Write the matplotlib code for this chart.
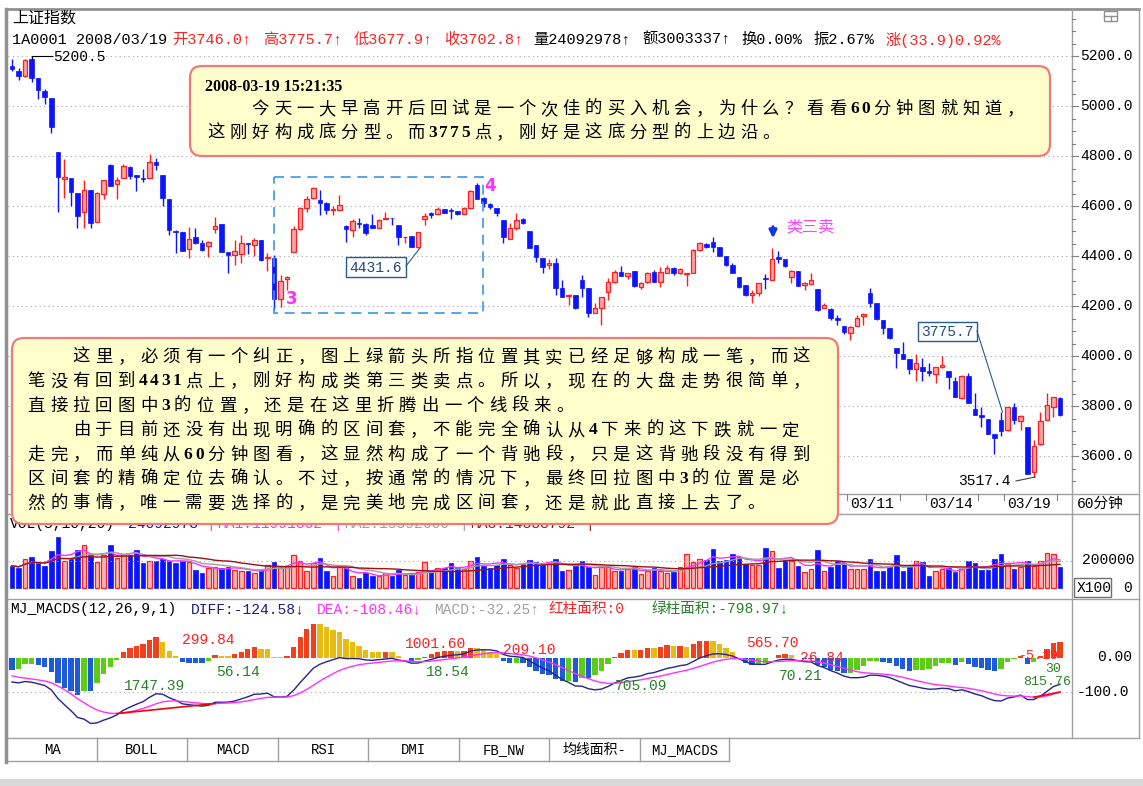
import numpy as np
import pandas as pd
import matplotlib
matplotlib.use('Agg')
import matplotlib.pyplot as plt
from matplotlib.patches import FancyBboxPatch, Rectangle

W, H = 1143, 786
CJK = ['Noto Sans CJK SC', 'DejaVu Sans']
MONO = ['Liberation Mono', 'Noto Sans CJK SC', 'DejaVu Sans']
plt.rcParams['font.family'] = MONO

# 上证指数 60分钟K线, 2008年1月-3月
opens = [
    5160, 5141, 5121, 5187, 5111, 5061, 5031, 4817, 4710, 4711,
    4653, 4575, 4664, 4535, 4648, 4764, 4688, 4711, 4757, 4723,
    4713, 4711, 4777, 4724, 4627, 4500, 4497, 4427, 4475, 4451,
    4440, 4507, 4527, 4417, 4404, 4408, 4453, 4444, 4464, 4391,
    4391, 4227, 4307, 4417, 4507, 4591, 4631, 4624, 4611, 4584,
    4584, 4521, 4504, 4533, 4528, 4524, 4511, 4547, 4553, 4524,
    4475, 4480, 4435, 4547, 4571, 4568, 4587, 4584, 4580, 4567,
    4591, 4684, 4631, 4608, 4591, 4544, 4467, 4511, 4547, 4501,
    4444, 4391, 4364, 4371, 4271, 4241, 4244, 4304, 4271, 4173,
    4191, 4257, 4297, 4337, 4320, 4341, 4275, 4297, 4337, 4297,
    4333, 4351, 4331, 4328, 4333, 4424, 4448, 4457, 4435, 4400,
    4364, 4315, 4284, 4244, 4251, 4311, 4304, 4395, 4387, 4317,
    4341, 4284, 4288, 4267, 4193, 4187, 4151, 4120, 4091, 4120,
    4160, 4251, 4211, 4144, 4111, 4031, 4008, 3987, 3947, 3955,
    3941, 3928, 3955, 3941, 3901, 3831, 3920, 3787, 3764, 3747,
    3688, 3744, 3704, 3797, 3741, 3717, 3537, 3647, 3744, 3795,
    3831]
highs = [
    5190, 5151, 5187, 5200.5, 5111, 5067, 5031, 4817, 4787, 4711,
    4653, 4704, 4664, 4657, 4704, 4768, 4717, 4767, 4760, 4723,
    4750, 4808, 4791, 4724, 4627, 4504, 4497, 4517, 4511, 4464,
    4460, 4557, 4527, 4417, 4464, 4484, 4453, 4471, 4464, 4411,
    4404, 4324, 4320, 4520, 4597, 4640, 4675, 4664, 4617, 4600,
    4644, 4524, 4547, 4551, 4531, 4567, 4547, 4577, 4553, 4524,
    4477, 4480, 4497, 4571, 4577, 4597, 4587, 4591, 4580, 4597,
    4664, 4693, 4635, 4611, 4591, 4544, 4533, 4571, 4551, 4501,
    4444, 4391, 4387, 4391, 4304, 4247, 4244, 4324, 4271, 4213,
    4237, 4311, 4344, 4360, 4331, 4341, 4297, 4337, 4344, 4355,
    4364, 4355, 4351, 4333, 4427, 4457, 4451, 4475, 4435, 4400,
    4371, 4315, 4284, 4264, 4293, 4328, 4431, 4421, 4387, 4344,
    4341, 4297, 4333, 4267, 4211, 4191, 4164, 4120, 4120, 4164,
    4171, 4271, 4211, 4144, 4111, 4031, 4057, 3987, 4008, 3991,
    3973, 3957, 4000, 3941, 3915, 3924, 3931, 3853, 3797, 3747,
    3688, 3775.7, 3797, 3813, 3764, 3717, 3664, 3777, 3853, 3837,
    3835]
lows = [
    5140, 5104, 5117, 5097, 5027, 5008, 4891, 4577, 4631, 4600,
    4511, 4511, 4511, 4535, 4628, 4680, 4628, 4711, 4707, 4661,
    4697, 4711, 4744, 4600, 4484, 4413, 4421, 4391, 4448, 4420,
    4395, 4493, 4417, 4331, 4364, 4371, 4408, 4400, 4381, 4340,
    4184, 4197, 4264, 4417, 4504, 4577, 4627, 4564, 4568, 4564,
    4584, 4457, 4477, 4511, 4484, 4511, 4511, 4547, 4524, 4444,
    4453, 4435, 4431.6, 4524, 4551, 4568, 4571, 4547, 4564, 4567,
    4587, 4627, 4597, 4587, 4560, 4453, 4467, 4504, 4528, 4431,
    4377, 4333, 4347, 4244, 4237, 4204, 4187, 4237, 4155, 4173,
    4124, 4224, 4293, 4320, 4307, 4275, 4267, 4293, 4297, 4275,
    4331, 4324, 4328, 4280, 4333, 4421, 4431, 4417, 4400, 4360,
    4331, 4271, 4240, 4213, 4240, 4267, 4304, 4371, 4357, 4291,
    4280, 4264, 4288, 4181, 4191, 4144, 4124, 4088, 4064, 4120,
    4124, 4197, 4144, 4088, 4067, 3951, 3987, 3928, 3901, 3901,
    3920, 3891, 3951, 3867, 3837, 3827, 3813, 3764, 3717, 3688,
    3608, 3680, 3701, 3728, 3704, 3528, 3517.4, 3644, 3744, 3757,
    3760]
closes = [
    5150, 5121, 5184, 5111, 5064, 5035, 4917, 4715, 4717, 4657,
    4561, 4664, 4533, 4651, 4704, 4680, 4704, 4761, 4720, 4717,
    4708, 4777, 4764, 4631, 4504, 4495, 4421, 4467, 4451, 4424,
    4456, 4520, 4417, 4404, 4420, 4451, 4447, 4464, 4384, 4395,
    4227, 4301, 4317, 4507, 4591, 4627, 4671, 4611, 4584, 4587,
    4604, 4508, 4540, 4528, 4491, 4511, 4544, 4551, 4551, 4475,
    4477, 4435, 4497, 4560, 4563, 4587, 4573, 4580, 4567, 4591,
    4661, 4627, 4611, 4597, 4571, 4475, 4511, 4544, 4531, 4431,
    4395, 4357, 4371, 4271, 4237, 4245, 4191, 4271, 4173, 4191,
    4237, 4297, 4337, 4320, 4331, 4280, 4291, 4333, 4297, 4337,
    4351, 4331, 4347, 4333, 4424, 4453, 4437, 4437, 4400, 4364,
    4333, 4277, 4244, 4253, 4293, 4307, 4387, 4387, 4360, 4341,
    4280, 4291, 4304, 4184, 4203, 4151, 4144, 4097, 4115, 4151,
    4167, 4211, 4147, 4111, 4071, 4013, 3987, 3947, 3971, 3941,
    3931, 3955, 3964, 3915, 3837, 3920, 3813, 3764, 3755, 3688,
    3671, 3701, 3797, 3744, 3760, 3528, 3640, 3741, 3804, 3835,
    3764]
# 成交量, 单位: 千 (X100股)
vols = [
    165, 148, 215, 227, 183, 165, 272, 375, 202, 215,
    281, 314, 240, 190, 240, 314, 222, 252, 240, 281,
    183, 198, 202, 215, 202, 183, 198, 190, 133, 109,
    148, 158, 148, 158, 133, 128, 123, 109, 133, 173,
    190, 148, 165, 240, 198, 128, 183, 222, 123, 91,
    158, 148, 91, 74, 109, 91, 91, 109, 91, 133,
    99, 104, 116, 190, 128, 148, 148, 183, 148, 141,
    202, 232, 165, 148, 173, 215, 173, 148, 178, 207,
    190, 173, 190, 215, 128, 133, 165, 202, 153, 99,
    158, 158, 128, 123, 141, 153, 104, 123, 148, 128,
    109, 116, 153, 247, 190, 215, 207, 289, 198, 207,
    247, 232, 178, 173, 173, 296, 272, 148, 207, 202,
    165, 116, 141, 277, 123, 158, 198, 183, 141, 141,
    141, 215, 123, 128, 158, 240, 123, 153, 202, 190,
    91, 128, 141, 148, 116, 141, 198, 183, 133, 133,
    215, 247, 178, 141, 158, 202, 165, 202, 257, 252,
    158]

date_ticks = [127.5, 135.5, 139.5, 147.5, 151.5, 159.5]
date_labels = {127.5: '03/11', 139.5: '03/14', 151.5: '03/19'}
price_ticks = [3600, 3800, 4000, 4200, 4400, 4600, 4800, 5000, 5200]
tabs = ['MA', 'BOLL', 'MACD', 'RSI', 'DMI', 'FB_NW', '均线面积-', 'MJ_MACDS']
tab_edges = [8, 97, 187, 278, 368, 459, 549, 640, 729]
area_labels = [('1747.39', 124, 686, 'g'), ('299.84', 182, 640, 'r'), ('56.14', 216, 672, 'g'),
               ('1001.60', 405, 644, 'r'), ('18.54', 426, 672, 'g'), ('209.10', 503, 650, 'r'),
               ('705.09', 615, 686, 'g'), ('565.70', 746, 643, 'r'), ('70.21', 779, 676, 'g'),
               ('26.84', 800, 658, 'r'), ('815.76', 1023, 682, 'g'), ('-5.19', 1019, 656, 'r'),
               ('30', 1045, 669, 'g')]

o = np.array(opens, float); h = np.array(highs, float)
l = np.array(lows, float); c = np.array(closes, float)
v = np.array(vols, float)
n = len(c)
idx = np.arange(n)
up = c >= o

fig = plt.figure(figsize=(W / 100, H / 100), dpi=100)
fig.patch.set_facecolor('white')


def px_axes(x0, y0, x1, y1, z=1):
    a = fig.add_axes([x0 / W, 1 - y1 / H, (x1 - x0) / W, (y1 - y0) / H], zorder=z)
    a.set_facecolor('none')
    for s in a.spines.values():
        s.set_visible(False)
    a.set_xticks([]); a.set_yticks([])
    return a


bg = px_axes(0, 0, W, H, z=0)
bg.set_xlim(0, W); bg.set_ylim(H, 0)
ov = px_axes(0, 0, W, H, z=10)
ov.set_xlim(0, W); ov.set_ylim(H, 0)

XL = ((8 - 12) / 6.55, (1072 - 12) / 6.55)
RED, BLUE = '#ff1e1e', '#0a14ff'
GRID = '#a8a8a8'

# ---- main K-line ----
ax = px_axes(8, 10, 1072, 490)
ax.set_xlim(*XL); ax.set_ylim(3464, 5384)
for p in price_ticks:
    ax.axhline(p, color=GRID, lw=0.8, ls=(0, (1, 3)))
wc = np.where(up, RED, BLUE)
ax.vlines(idx, l, h, colors=wc, lw=1, zorder=2)
bh = np.maximum(np.abs(c - o), 3)
ax.bar(idx[up], bh[up], bottom=np.minimum(o, c)[up], width=0.7, color='#f7a4a4',
       edgecolor=RED, lw=0.9, zorder=3)
ax.bar(idx[~up], bh[~up], bottom=np.minimum(o, c)[~up], width=0.7, color=BLUE,
       edgecolor=BLUE, lw=0.5, zorder=3)

# ---- volume ----
vx = px_axes(8, 514, 1072, 598)
vx.set_xlim(*XL); vx.set_ylim(-71.4, 542.9)
vx.axhline(200, color=GRID, lw=0.8, ls=(0, (1, 3)))
vx.bar(idx[up], v[up], width=0.7, color='#f8b4b4', edgecolor=RED, lw=0.9)
vx.bar(idx[~up], v[~up], width=0.7, color=BLUE, edgecolor=BLUE, lw=0.5)
vs = pd.Series(v)
vx.plot(idx, vs.rolling(5, min_periods=1).mean(), color='#ff30ff', lw=1)
vx.plot(idx, vs.rolling(10, min_periods=1).mean(), color='#a0a0a0', lw=1)
vx.plot(idx, vs.rolling(20, min_periods=1).mean(), color='#a01010', lw=1)

# ---- MJ_MACDS ----
e12, e26, dea = 5230.0, 5299.0, -48.0
DIF, DEA = [], []
for cc in c:
    e12 += (cc - e12) * 2 / 13
    e26 += (cc - e26) * 2 / 27
    d = e12 - e26
    dea += (d - dea) * 2 / 10
    DIF.append(d); DEA.append(dea)
DIF = np.array(DIF); DEA = np.array(DEA)
hist = 2 * (DIF - DEA)
cols = []
for i, hv in enumerate(hist):
    prev = hist[i - 1] if i else hv + 1
    if hv >= 0:
        cols.append('#f0401e' if hv >= prev else '#e6bc14')
    else:
        cols.append('#1e5adc' if hv < prev else '#5ccc14')
mx = px_axes(8, 599, 1072, 738)
mx.set_xlim(*XL); mx.set_ylim(-231.4, 168.6)
mx.axhline(-100, color=GRID, lw=0.8, ls=(0, (1, 3)))
mx.bar(idx, hist, width=0.82, color=cols)
mx.plot(idx, DIF, color='#24248c', lw=1)
mx.plot(idx, DEA, color='#ff30ff', lw=1)
for a, b in [(16, 31), (156, 160)]:
    mx.plot([a, b], [DEA[a], DEA[b]], color='red', lw=1.2)
for t, x, y, k in area_labels:
    ov.text(x, y, t, color='#ff2020' if k == 'r' else '#288228',
            fontsize=9.5 if x > 1010 else 10.5, va='center', family=MONO, zorder=5)

# ---- frames ----
L = dict(color='#a0a0a0', lw=1)
bg.plot([8, 1139], [9, 9], color='#909090', lw=2)
bg.plot([6, 6], [9, 762], color='#909090', lw=2.5)
bg.plot([1072, 1072], [9, 738], **L)
bg.plot([1139, 1139], [9, 738], **L)
for y in [494, 514, 599, 738]:
    bg.plot([8, 1139], [y, y], **L)
bg.plot([8, 729], [761, 761], **L)
for x in tab_edges[1:]:
    bg.plot([x, x], [738, 761], **L)
for t, a, b in zip(tabs, tab_edges[:-1], tab_edges[1:]):
    bg.text((a + b) / 2, 750, t, ha='center', va='center', fontsize=10, family=MONO)
bg.add_patch(Rectangle((0, 779), W, 7, color='#d8d8d8', lw=0))
bg.add_patch(Rectangle((1104, 11), 13, 10, fill=False, ec='#909090', lw=1))
bg.plot([1104, 1117], [16, 16], color='#909090', lw=1)
bg.plot([1111, 1111], [16, 21], color='#909090', lw=1)

# price axis
for p in range(3500, 5351, 50):
    y = 56 + (5200 - p) / 4
    if 14 < y < 492:
        bg.plot([1072, 1075 if p % 200 else 1078], [y, y], color='#808080', lw=0.8)
for p in price_ticks:
    bg.text(1080, 56 + (5200 - p) / 4, f'{p}.0', va='center', fontsize=10.5, family=MONO)

# date strip
for t in date_ticks:
    x = 12 + 6.55 * t
    bg.plot([x, x], [494, 500], color='#808080', lw=0.8)
    if t in date_labels:
        bg.text(x + 3, 504, date_labels[t], va='center', fontsize=10.5, family=MONO)
bg.text(1077, 504, '60分钟', va='center', fontsize=10.5, family=MONO)

# volume / macd axis labels
bg.text(1082, 560, '200000', va='center', fontsize=10.5, family=MONO)
bg.add_patch(Rectangle((1074, 578), 37, 19, fill=False, ec='#707070', lw=1))
bg.text(1077, 588, 'X100', va='center', fontsize=10.5, family=MONO)
bg.text(1123, 588, '0', va='center', fontsize=10.5, family=MONO)
bg.text(1097, 657, '0.00', va='center', fontsize=10.5, family=MONO)
bg.text(1077, 692, '-100.0', va='center', fontsize=10.5, family=MONO)

# header
bg.text(12, 18, '上证指数', va='center', fontsize=11.5, family=CJK)
head = [(12, '1A0001 2008/03/19', 'black'), (172, '开3746.0↑', '#ff2020'),
        (263, '高3775.7↑', '#ff2020'), (354, '低3677.9↑', '#ff2020'),
        (444, '收3702.8↑', '#ff2020'), (533, '量24092978↑', 'black'),
        (642, '额3003337↑', 'black'), (741, '换0.00%', 'black'), (813, '振2.67%', 'black'),
        (886, '涨(33.9)0.92%', '#ff2020')]
for x, t, col in head:
    bg.text(x, 40, t, va='center', fontsize=11, color=col)

vol_title = [(10, 'VOL(5,10,20)', 'black'), (128, '24092978', '#1010c0'), (206, '|', '#ff30ff'),
             (217, 'MA1:11991362', '#ff30ff'), (333, '|', '#ff30ff'), (344, 'MA2:15592600', '#a0a0a0'),
             (459, '|', '#a0a0a0'), (470, 'MA3:14888792', '#a01010'), (585, '|', '#a01010')]
for x, t, col in vol_title:
    bg.text(x, 524, t, va='center', fontsize=10.5, color=col)
macd_title = [(10, 'MJ_MACDS(12,26,9,1)', 'black'), (191, 'DIFF:-124.58↓', '#1a1a90'),
              (317, 'DEA:-108.46↓', '#ff30ff'), (434, 'MACD:-32.25↑', '#a0a0a0'),
              (548, '红柱面积:0', '#ff2020'), (651, '绿柱面积:-798.97↓', '#288228')]
for x, t, col in macd_title:
    bg.text(x, 609, t, va='center', fontsize=10.5, color=col)

# ---- chart annotations ----
ov.plot([31.7, 31.7, 52], [59, 56, 56], color='black', lw=0.8)
ov.text(53, 57, '5200.5', va='center', fontsize=10.5, family=MONO)
ov.add_patch(Rectangle((274, 177), 209, 136, fill=False, ec='#3a96e8', lw=1.2, ls=(0, (6, 4))))
ov.text(286, 299, '3', color='#ff30ff', fontsize=12, weight='bold', va='center', family=['DejaVu Sans'])
ov.text(484, 186, '4', color='#ff30ff', fontsize=12, weight='bold', va='center', family=['DejaVu Sans'])
ov.add_patch(Rectangle((346, 257), 60, 20, fill=False, ec='#285a90', lw=1))
ov.text(349, 267.5, '4431.6', va='center', fontsize=10.5, color='#204a80', family=MONO)
ov.plot([406, 420], [266, 248], color='#285a90', lw=0.8)
ov.add_patch(Rectangle((918, 322), 59, 19, fill=False, ec='#285a90', lw=1))
ov.text(921, 331.5, '3775.7', va='center', fontsize=10.5, color='#204a80', family=MONO)
ov.plot([977, 1002.5], [331, 412], color='#285a90', lw=0.8)
ov.text(958, 481, '3517.4', va='center', fontsize=10.5, family=MONO)
ov.plot([1016, 1035], [481, 477], color='#404040', lw=0.8)
ov.annotate('', xy=(773, 241), xytext=(773, 224),
            arrowprops=dict(arrowstyle='-|>', color='#1038e0', lw=2.2, mutation_scale=11))
ov.text(786, 227, '类三卖', va='center', fontsize=11.5, color='#ff40ff', family=CJK)

# ---- comment boxes ----
for x0, y0, x1, y1 in [(190, 66, 1050, 156), (12, 338, 838, 524)]:
    ov.add_patch(FancyBboxPatch((x0, y0), x1 - x0, y1 - y0, boxstyle='round,pad=0,rounding_size=12',
                                fc='#ffffcc', ec='#f07a7a', lw=1.6, zorder=3))


def spaced(x, y, s, adv):
    for ch in s:
        if ch == '　':
            x += adv
        elif ord(ch) < 128:
            ov.text(x + adv / 4, y, ch, ha='center', va='center', fontsize=12.5,
                    family=['Liberation Serif'], weight='bold', zorder=4)
            x += adv / 2
        else:
            ov.text(x + adv / 2, y, ch, ha='center', va='center', fontsize=12.5,
                    family=CJK, zorder=4)
            x += adv


ov.text(205, 87, '2008-03-19 15:21:35', va='center', fontsize=11.5, weight='bold',
        family=['Liberation Serif'], zorder=4)
spaced(205, 109, '　　今天一大早高开后回试是一个次佳的买入机会，为什么？看看60分钟图就知道，', 22.2)
spaced(205, 133, '这刚好构成底分型。而3775点，刚好是这底分型的上边沿。', 22.2)
lines = ['　　这里，必须有一个纠正，图上绿箭头所指位置其实已经足够构成一笔，而这',
         '笔没有回到4431点上，刚好构成类第三类卖点。所以，现在的大盘走势很简单，',
         '直接拉回图中3的位置，还是在这里折腾出一个线段来。',
         '　　由于目前还没有出现明确的区间套，不能完全确认从4下来的这下跌就一定',
         '走完，而单纯从60分钟图看，这显然构成了一个背驰段，只是这背驰段没有得到',
         '区间套的精确定位去确认。不过，按通常的情况下，最终回拉图中3的位置是必',
         '然的事情，唯一需要选择的，是完美地完成区间套，还是就此直接上去了。']
for k, s in enumerate(lines):
    spaced(25, 357 + 24.4 * k, s, 22.5)

fig.savefig('out.png', dpi=100, facecolor='white')
